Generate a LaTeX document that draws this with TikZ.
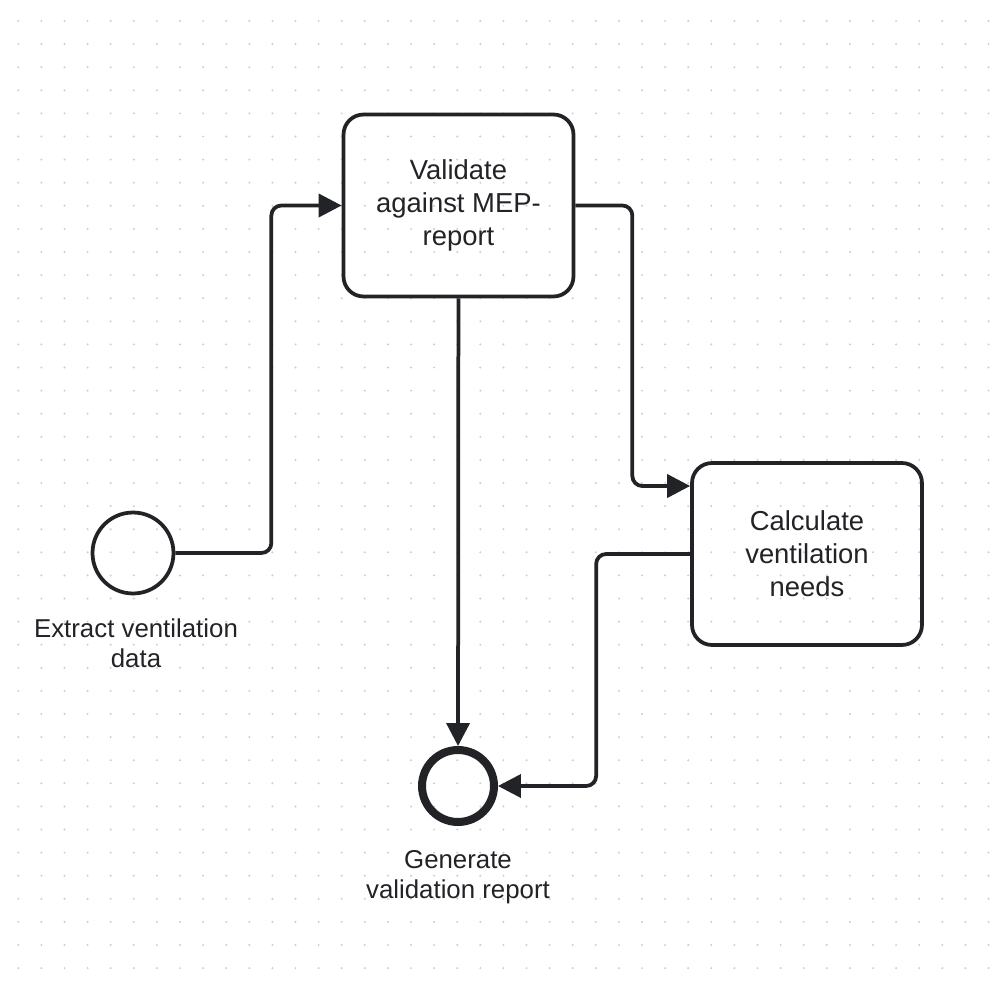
\documentclass[tikz,border=0pt]{standalone}
\usepackage{fontspec}
\setmainfont{Liberation Sans}
\usetikzlibrary{arrows.meta}
\definecolor{ink}{HTML}{222326}
\definecolor{griddot}{HTML}{CDCDCD}
\tikzset{
  task/.style={draw=ink,line width=0.075cm,rounded corners=0.4cm,
    minimum width=4.6cm,minimum height=3.64cm,align=center,
    font=\fontsize{15.6}{18.7}\selectfont,text=ink},
  startev/.style={circle,draw=ink,line width=0.075cm,minimum size=1.62cm,inner sep=0pt},
  endev/.style={circle,draw=ink,line width=0.16cm,minimum size=1.44cm,inner sep=0pt},
  evlabel/.style={align=center,font=\fontsize{14.7}{17}\selectfont,text=ink},
  flow/.style={draw=ink,line width=0.075cm,rounded corners=0.2cm,
    -{Triangle[length=0.46cm,width=0.46cm]}}
}
\begin{document}
\begin{tikzpicture}[x=0.02cm,y=-0.02cm]
\useasboundingbox[fill=white] (0,0) rectangle (1008,990);
\foreach \i in {0,...,42}
  \foreach \j in {0,...,41}
    \fill[griddot] (18.3+23.1*\i,21+23.1*\j) circle (1.1);
\node[startev] (start) at (133,553) {};
\node[evlabel] (startlbl) at (136,643) {Extract ventilation\\data};
\node[task] (validate) at (458.5,205.5) {Validate\\against MEP-\\report};
\node[task] (calc) at (807,554) {Calculate\\ventilation\\needs};
\node[endev] (end) at (458,786) {};
\node[evlabel] (endlbl) at (458,877) {Generate\\validation report};
\draw[flow] (start.east) -- ++(96,0) |- (validate.west);
\draw[flow] (validate.east) -- ++(57,0) |- ([yshift=1.36cm]calc.west);
\draw[flow] (validate) -- (end);
\draw[flow] (calc.west) -- ++(-94,0) |- (end.east);
\end{tikzpicture}
\end{document}
